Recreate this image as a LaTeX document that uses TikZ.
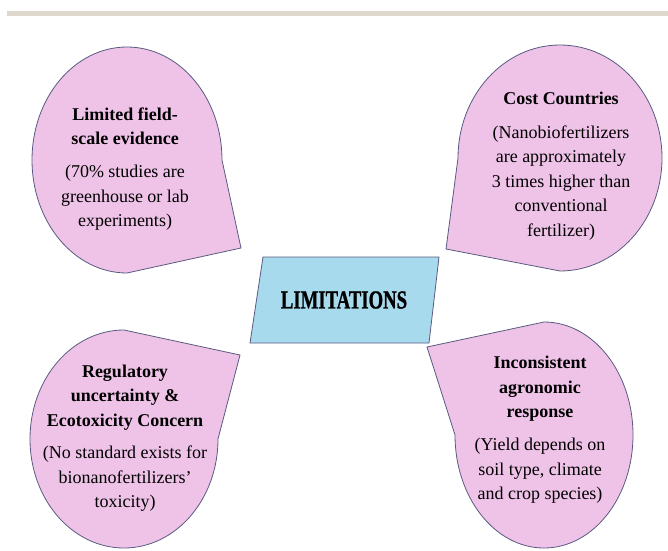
\documentclass[tikz,border=0pt]{standalone}
\usepackage{fontspec}
\setmainfont{Liberation Serif}
\usetikzlibrary{calc}
\definecolor{petalfill}{HTML}{EFC3E8}
\definecolor{petalline}{HTML}{5A5A80}
\definecolor{boxfill}{HTML}{A8DAEE}
\definecolor{barfill}{HTML}{DED9CC}
\begin{document}
\begin{tikzpicture}[x=1pt, y=1pt,
    petal/.style={fill=petalfill, draw=petalline, line width=0.8pt},
    blurb/.style={align=center, inner sep=0pt, text=black,
        font=\fontsize{18}{24.5}\selectfont}]
    \useasboundingbox (0,0) rectangle (668,550);
    \fill[barfill] (7,534) rectangle (668,539);
    \coordinate (tl) at (127,390);
    \coordinate (tr) at (560,392);
    \coordinate (bl) at (124,111);
    \coordinate (br) at (544,115);
    \draw[petal] ($(tl)+(0:95pt and 113pt)$) arc[start angle=0, end angle=270, x radius=95pt, y radius=113pt] -- (241,302) -- cycle;
    \draw[petal] ($(tr)+(-90:102pt and 113pt)$) arc[start angle=-90, end angle=180, x radius=102pt, y radius=113pt] -- (446,301) -- cycle;
    \draw[petal] ($(bl)+(90:94pt and 109pt)$) arc[start angle=90, end angle=360, x radius=94pt, y radius=109pt] -- (240,195) -- cycle;
    \draw[petal] ($(br)+(180:89pt and 113pt)$) arc[start angle=180, end angle=450, x radius=89pt, y radius=113pt] -- (427,203) -- cycle;
    \draw[fill=boxfill, draw=petalline, line width=0.8pt] (263,293) -- (439,293) -- (429,207) -- (250,207) -- cycle;
    \node[inner sep=0pt, font=\fontsize{26}{26}\selectfont\bfseries\addfontfeatures{FakeBold=1.2}] (limits) at (344,250) {\scalebox{0.72}[1]{LIMITATIONS}};
    \node[blurb] (field) at (125,380.7) {\textbf{Limited field-}\\\textbf{scale evidence}\\[8.5pt](70\% studies are\\greenhouse or lab\\experiments)};
    \node[blurb] (cost) at (561,384) {\textbf{Cost Countries}\\[9.5pt](Nanobiofertilizers\\are approximately\\3 times higher than\\conventional\\fertilizer)};
    \node[blurb] (rules) at (125,111.8) {\textbf{Regulatory}\\\textbf{uncertainty \&}\\\textbf{Ecotoxicity Concern}\\[8pt](No standard exists for\\bionanofertilizers'\\toxicity)};
    \node[blurb] (yield) at (540,120.2) {\textbf{Inconsistent}\\\textbf{agronomic}\\\textbf{response}\\[8.5pt](Yield depends on\\soil type, climate\\and crop species)};
\end{tikzpicture}
\end{document}
